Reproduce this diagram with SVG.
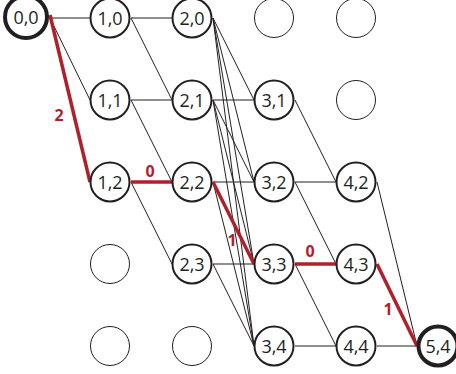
<svg xmlns="http://www.w3.org/2000/svg" width="456" height="374" viewBox="0 0 456 374">
<style>
.n{fill:#fff;stroke:#231f20;stroke-width:2}
.e{fill:#fff;stroke:#231f20;stroke-width:1}
.big{fill:#fff;stroke:#231f20;stroke-width:4}
.t{font-family:"Open Sans","Liberation Sans",sans-serif;font-size:18px;fill:#231f20;text-anchor:middle}
.l{stroke:#231f20;stroke-width:1;fill:none}
.r{stroke:#b11f2a;stroke-width:3.5;fill:none}
.rl{font-family:"Open Sans","Liberation Sans",sans-serif;font-size:16px;font-weight:bold;fill:#b11f2a;text-anchor:middle}
</style>
<rect width="456" height="374" fill="#fff"/>
<g id="connectors">
<line class="l" x1="50" y1="18" x2="90" y2="18"/>
<line class="l" x1="50" y1="18" x2="90" y2="100"/>
<line class="l" x1="131" y1="18" x2="172" y2="18"/>
<line class="l" x1="131" y1="18" x2="172" y2="100"/>
<line class="l" x1="131" y1="100" x2="172" y2="100"/>
<line class="l" x1="131" y1="100" x2="172" y2="182"/>
<line class="l" x1="131" y1="182" x2="172" y2="264"/>
<line class="l" x1="213" y1="18" x2="254" y2="100"/>
<line class="l" x1="213" y1="18" x2="254" y2="182"/>
<line class="l" x1="213" y1="18" x2="254" y2="264"/>
<line class="l" x1="213" y1="18" x2="254" y2="346"/>
<line class="l" x1="213" y1="100" x2="254" y2="100"/>
<line class="l" x1="213" y1="100" x2="254" y2="182"/>
<line class="l" x1="213" y1="100" x2="254" y2="264"/>
<line class="l" x1="213" y1="100" x2="254" y2="346"/>
<line class="l" x1="213" y1="182" x2="254" y2="182"/>
<line class="l" x1="213" y1="182" x2="254" y2="346"/>
<line class="l" x1="213" y1="264" x2="254" y2="264"/>
<line class="l" x1="213" y1="264" x2="254" y2="346"/>
<line class="l" x1="295" y1="100" x2="336" y2="182"/>
<line class="l" x1="295" y1="182" x2="336" y2="182"/>
<line class="l" x1="295" y1="182" x2="336" y2="264"/>
<line class="l" x1="295" y1="264" x2="336" y2="346"/>
<line class="l" x1="295" y1="346" x2="336" y2="346"/>
<line class="l" x1="377" y1="182" x2="417" y2="346"/>
<line class="l" x1="377" y1="346" x2="417" y2="346"/>
<line class="r" x1="50" y1="15" x2="90" y2="182"/>
<line class="r" x1="131" y1="182" x2="172" y2="182"/>
<line class="r" x1="213" y1="182" x2="254" y2="264"/>
<line class="r" x1="295" y1="264" x2="336" y2="264"/>
<line class="r" x1="377" y1="264" x2="417" y2="346"/>
<text class="rl" x="59" y="121">2</text>
<text class="rl" x="150" y="177">0</text>
<text class="rl" x="232" y="246">1</text>
<text class="rl" x="310" y="257">0</text>
<text class="rl" x="388" y="315">1</text>
</g>
<g id="n00"><circle class="big" cx="26" cy="17" r="21"/><text class="t" x="26" y="23.5">0,0</text></g>
<g id="n10"><circle class="n" cx="110" cy="18" r="19.5"/><text class="t" x="110" y="24.5">1,0</text></g>
<g id="n11"><circle class="n" cx="110" cy="100" r="19.5"/><text class="t" x="110" y="106.5">1,1</text></g>
<g id="n12"><circle class="n" cx="110" cy="182" r="19.5"/><text class="t" x="110" y="188.5">1,2</text></g>
<g id="n13"><circle class="e" cx="110" cy="264" r="19.5"/></g>
<g id="n14"><circle class="e" cx="110" cy="346" r="19.5"/></g>
<g id="n20"><circle class="n" cx="192" cy="18" r="19.5"/><text class="t" x="192" y="24.5">2,0</text></g>
<g id="n21"><circle class="n" cx="192" cy="100" r="19.5"/><text class="t" x="192" y="106.5">2,1</text></g>
<g id="n22"><circle class="n" cx="192" cy="182" r="19.5"/><text class="t" x="192" y="188.5">2,2</text></g>
<g id="n23"><circle class="n" cx="192" cy="264" r="19.5"/><text class="t" x="192" y="270.5">2,3</text></g>
<g id="n24"><circle class="e" cx="192" cy="346" r="19.5"/></g>
<g id="n30"><circle class="e" cx="274" cy="18" r="19.5"/></g>
<g id="n31"><circle class="n" cx="274" cy="100" r="19.5"/><text class="t" x="274" y="106.5">3,1</text></g>
<g id="n32"><circle class="n" cx="274" cy="182" r="19.5"/><text class="t" x="274" y="188.5">3,2</text></g>
<g id="n33"><circle class="n" cx="274" cy="264" r="19.5"/><text class="t" x="274" y="270.5">3,3</text></g>
<g id="n34"><circle class="n" cx="274" cy="346" r="19.5"/><text class="t" x="274" y="352.5">3,4</text></g>
<g id="n40"><circle class="e" cx="356" cy="18" r="19.5"/></g>
<g id="n41"><circle class="e" cx="356" cy="100" r="19.5"/></g>
<g id="n42"><circle class="n" cx="356" cy="182" r="19.5"/><text class="t" x="356" y="188.5">4,2</text></g>
<g id="n43"><circle class="n" cx="356" cy="264" r="19.5"/><text class="t" x="356" y="270.5">4,3</text></g>
<g id="n44"><circle class="n" cx="356" cy="346" r="19.5"/><text class="t" x="356" y="352.5">4,4</text></g>
<g id="n54"><circle class="big" cx="438" cy="346" r="19.5"/><text class="t" x="438" y="352.5">5,4</text></g>
</svg>
